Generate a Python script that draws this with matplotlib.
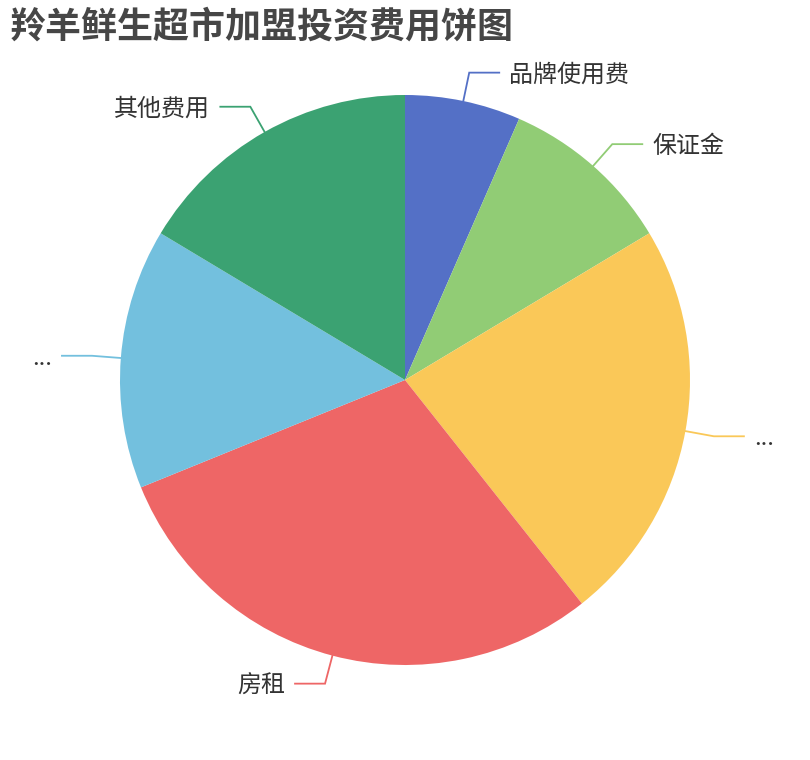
import numpy as np
import matplotlib
matplotlib.use("Agg")
import matplotlib.pyplot as plt

plt.rcParams['font.family'] = ['Noto Sans CJK SC', 'DejaVu Sans']

title = "羚羊鲜生超市加盟投资费用饼图"
labels = ['品牌使用费', '保证金', '...', '房租', '...', '其他费用']
values = [2, 3, 7, 9, 4.5, 5]
colors = ['#5470c6', '#91cc75', '#fac858', '#ee6666', '#73c0de', '#3ba272']

W, H = 810, 760
fig = plt.figure(figsize=(W / 100, H / 100), dpi=100)
ax = fig.add_axes([0, 0, 1, 1])

cx, cy, R = 405, 380, 285
wedges, _ = ax.pie(values, colors=colors, startangle=90, counterclock=False,
                   center=(cx, cy), radius=R,
                   wedgeprops=dict(edgecolor='none', linewidth=0))
ax.set_xlim(0, W)
ax.set_ylim(0, H)
ax.set_aspect('equal')
ax.axis('off')

L1, L2, GAP = 29, 30, 10
fs = 24 * 0.72
for w, lab, col in zip(wedges, labels, colors):
    mid = np.deg2rad((w.theta1 + w.theta2) / 2)
    c, s = np.cos(mid), np.sin(mid)
    x0, y0 = cx + R * c, cy + R * s
    x1, y1 = cx + (R + L1) * c, cy + (R + L1) * s
    d = 1 if c >= 0 else -1
    x2 = x1 + d * L2
    ax.plot([x0, x1, x2], [y0, y1, y1], color=col, lw=1.3, solid_joinstyle='miter')
    ax.text(x2 + d * GAP, y1 - 9, lab, fontsize=fs, color='#333333',
            ha='left' if d > 0 else 'right', va='baseline')

fig.text(10 / W, 1 - 27 / H, title, fontsize=36 * 0.72, fontweight='bold',
         color='#464646', ha='left', va='center')

fig.savefig('out.png', dpi=100)
